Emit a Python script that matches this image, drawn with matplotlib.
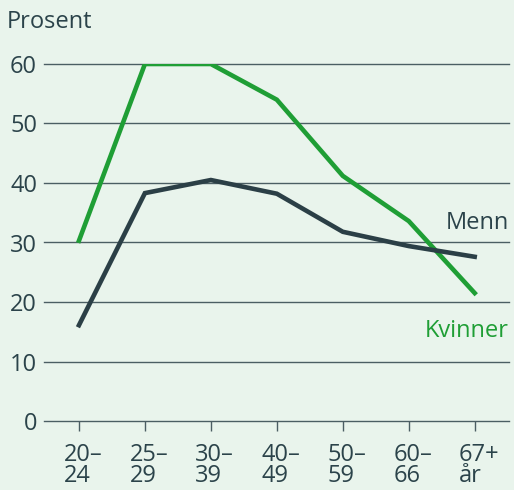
import matplotlib.pyplot as plt
import matplotlib.transforms as mtransforms

alder = ["20–\n24", "25–\n29", "30–\n39", "40–\n49", "50–\n59", "60–\n66", "67+\når"]
kvinner = [30.3, 60.0, 60.0, 54.0, 41.2, 33.6, 21.5]
menn = [16.1, 38.3, 40.5, 38.2, 31.8, 29.4, 27.6]

bg = "#e9f4ec"
gronn = "#1f9e35"
mork = "#2b3f46"
tekst = "#2b434a"

plt.rcParams['font.family'] = ['Open Sans', 'DejaVu Sans']
fs = 17

fig = plt.figure(figsize=(5.14, 4.9), dpi=100, facecolor=bg)
ax = fig.add_axes([44 / 514, 69 / 490, 465 / 514, 357 / 490], facecolor=bg)

x = list(range(len(alder)))
ax.plot(x, kvinner, color=gronn, lw=3.3, solid_joinstyle='miter', zorder=3)
ax.plot(x, menn, color=mork, lw=3.3, solid_joinstyle='miter', zorder=3)

ax.set_xlim(-0.53, 6.52)
ax.set_ylim(0, 60)
ax.set_yticks(range(0, 61, 10))
ax.yaxis.grid(True, color="#4b5e63", lw=1.0)
ax.set_axisbelow(True)
for linje in ax.get_ygridlines():
    linje.set_clip_on(False)
for s in ax.spines.values():
    s.set_visible(False)

ax.tick_params(axis='y', length=0, pad=5, labelsize=fs, labelcolor=tekst)
ax.tick_params(axis='x', length=7, width=1, color="#4b5e63", pad=9,
               labelsize=fs, labelcolor=tekst)
ax.set_xticks(x)
ax.set_xticklabels(alder, linespacing=0.8, ha='center', multialignment='left')
forskyv = mtransforms.ScaledTranslation(4 / 100, 0, fig.dpi_scale_trans)
for lab in ax.get_xticklabels():
    lab.set_transform(lab.get_transform() + forskyv)

fig.text(7 / 514, 1 - 22 / 490, "Prosent", fontsize=fs, color=tekst, va='center', ha='left')

ax.text(1.0, 33.3, "Menn", transform=ax.get_yaxis_transform(), ha='right', va='center',
        fontsize=fs, color=tekst)
ax.text(1.0, 15.2, "Kvinner", transform=ax.get_yaxis_transform(), ha='right', va='center',
        fontsize=fs, color=gronn)

fig.savefig("out.png", dpi=100, facecolor=bg)
